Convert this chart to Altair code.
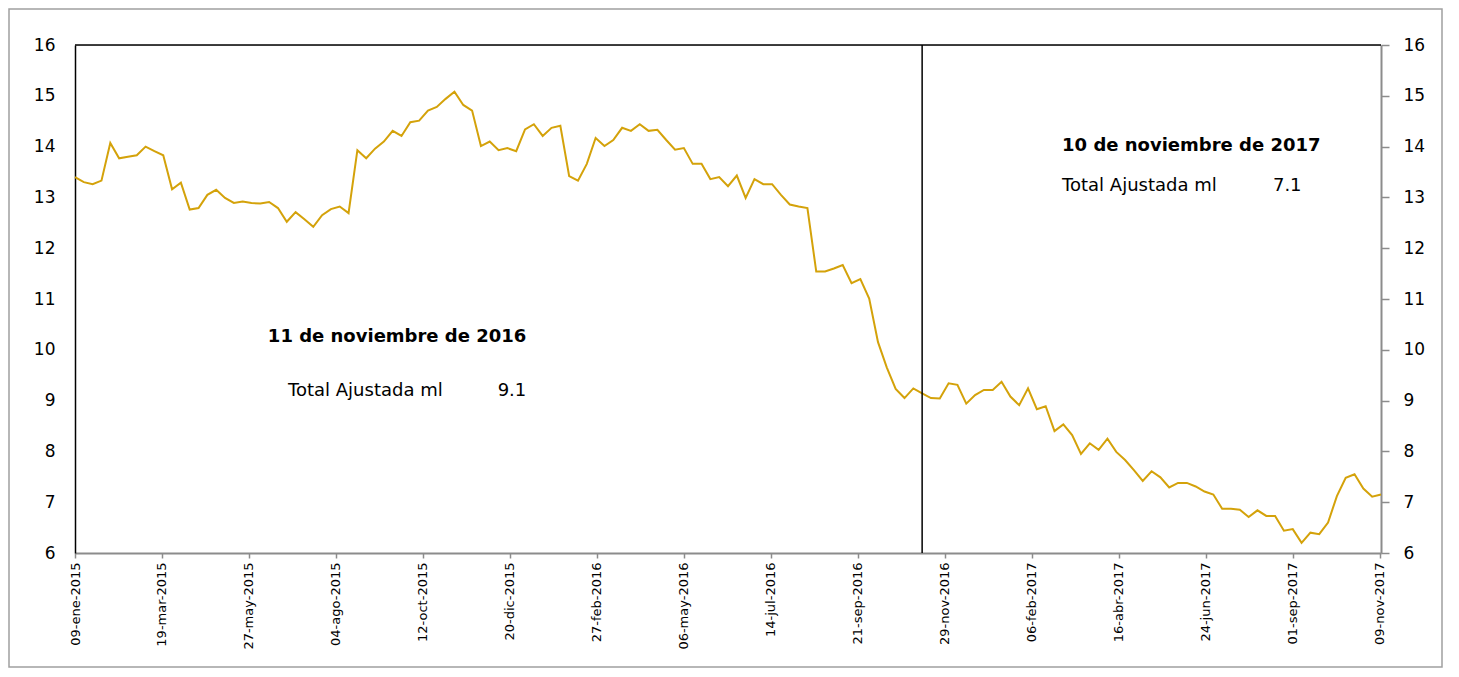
import json
import altair as alt
import pandas as pd

# ---------------- data ----------------
VALORES = [
    13.40, 13.30, 13.26, 13.33, 14.07, 13.77, 13.80, 13.83, 14.00, 13.91, 13.83, 13.16, 13.29,
    12.76, 12.79, 13.05, 13.15, 12.99, 12.89, 12.92, 12.89, 12.88, 12.91, 12.79, 12.52, 12.71,
    12.57, 12.42, 12.65, 12.77, 12.82, 12.69, 13.93, 13.77, 13.96, 14.10, 14.31, 14.21, 14.48,
    14.51, 14.71, 14.78, 14.94, 15.08, 14.82, 14.71, 14.01, 14.10, 13.93, 13.97, 13.91,
    14.34, 14.44, 14.21, 14.37, 14.41, 13.42, 13.33, 13.66, 14.17, 14.01, 14.13, 14.37, 14.31,
    14.44, 14.31, 14.33, 14.13, 13.94, 13.97, 13.66, 13.66, 13.36, 13.40, 13.22, 13.43,
    12.99, 13.36, 13.26, 13.26, 13.05, 12.86, 12.82, 12.79, 11.54, 11.54, 11.60, 11.67, 11.31,
    11.39, 11.01, 10.15, 9.65, 9.23, 9.05, 9.24, 9.14, 9.05, 9.04, 9.34, 9.31,
    8.94, 9.11, 9.21, 9.21, 9.37, 9.08, 8.91, 9.24, 8.83, 8.89, 8.40, 8.53, 8.32, 7.95, 8.16,
    8.03, 8.25, 7.99, 7.83, 7.63, 7.42, 7.61, 7.49, 7.29,
    7.38, 7.38, 7.31, 7.21, 7.15, 6.87, 6.87, 6.85, 6.71, 6.84, 6.73, 6.73, 6.44, 6.47, 6.20,
    6.40, 6.37, 6.60, 7.12, 7.48, 7.55, 7.27, 7.11, 7.15,
]
FECHA_INICIO = "2015-01-09"
FECHAS = [d.strftime("%Y-%m-%d") for d in pd.date_range(FECHA_INICIO, periods=len(VALORES), freq="7D")]

TICK_DATES = ["2015-01-09", "2015-03-19", "2015-05-27", "2015-08-04", "2015-10-12", "2015-12-20",
              "2016-02-27", "2016-05-06", "2016-07-14", "2016-09-21", "2016-11-29", "2017-02-06",
              "2017-04-16", "2017-06-24", "2017-09-01", "2017-11-09"]
MESES = ["ene", "feb", "mar", "abr", "may", "jun", "jul", "ago", "sep", "oct", "nov", "dic"]
Y_TICKS = list(range(6, 17))
FECHA_MARCA = ["2016-11-11"]

TITULOS = ["11 de noviembre de 2016", "10 de noviembre de 2017"]
TITULOS_FECHA = ["2015-06-11", "2017-03-02"]
TITULOS_VALOR = [10.25, 14.01]
ETIQUETAS = ["Total Ajustada ml", "Total Ajustada ml"]
ETIQUETAS_FECHA = ["2015-06-27", "2017-03-02"]
ETIQUETAS_VALOR = [9.19, 13.22]
NUMEROS = ["9.1", "7.1"]
NUMEROS_FECHA = ["2016-01-02", "2017-09-08"]
NUMEROS_VALOR = [9.19, 13.22]


def ms(d):
    return int(pd.Timestamp(d).value // 10**6)


FONT = "DejaVu Sans"
GRIS = "#8c8c8c"
ORO = "#D4A20A"

df = pd.DataFrame({"fecha": FECHAS, "valor": VALORES})

label_expr = ("utcFormat(datum.value, '%d') + '-' + " + json.dumps(MESES)
              + "[utcmonth(datum.value)] + '-' + utcFormat(datum.value, '%Y')")

x_scale = alt.Scale(type="utc", domain=[ms(FECHA_INICIO), ms(FECHAS[-1])])
y_scale = alt.Scale(domain=[6, 16], nice=False, zero=False)

x_axis = alt.Axis(values=[ms(d) for d in TICK_DATES], labelExpr=label_expr, labelAngle=270,
                  labelFontSize=13, labelFont=FONT, labelColor="black", labelPadding=4,
                  labelFlush=False, labelOverlap=False, tickColor=GRIS, tickSize=5, tickWidth=1.5,
                  domainColor=GRIS, domainWidth=2, grid=False, title=None)
y_left = alt.Axis(values=Y_TICKS, orient="left", labelFontSize=17, labelFont=FONT, labelColor="black",
                  labelPadding=20, ticks=False, domainColor="black", domainWidth=1.5, grid=False,
                  title=None, labelFlush=False)
y_right = alt.Axis(values=Y_TICKS, orient="right", labelFontSize=17, labelFont=FONT, labelColor="black",
                   labelPadding=14, tickColor=GRIS, tickSize=8, tickWidth=1.5, domainColor=GRIS,
                   domainWidth=2, grid=False, title=None, labelFlush=False)


def X():
    return alt.X("fecha:T", scale=x_scale, axis=x_axis)


def Y():
    return alt.Y("valor:Q", scale=y_scale, axis=y_left)


frame = alt.Chart(pd.DataFrame({"k": [0]})).mark_rect(
    fillOpacity=0, stroke="#a0a0a0", strokeWidth=1.5
).encode(x=alt.value(-66), x2=alt.value(1367), y=alt.value(-36), y2=alt.value(622))

line = alt.Chart(df).mark_line(color=ORO, strokeWidth=2).encode(x=X(), y=Y())

vrule = alt.Chart(pd.DataFrame({"fecha": FECHA_MARCA})).mark_rule(
    color="black", strokeWidth=1.5).encode(x=X())

toprule = alt.Chart(pd.DataFrame({"valor": [16]})).mark_rule(
    color="black", strokeWidth=1.5).encode(y=Y())

t_titulos = alt.Chart(pd.DataFrame({"fecha": TITULOS_FECHA, "valor": TITULOS_VALOR, "texto": TITULOS})).mark_text(
    align="left", baseline="middle", font=FONT, fontSize=18, fontWeight="bold", color="black"
).encode(x=X(), y=Y(), text="texto:N")

t_etiq = alt.Chart(pd.DataFrame({"fecha": ETIQUETAS_FECHA, "valor": ETIQUETAS_VALOR, "texto": ETIQUETAS})).mark_text(
    align="left", baseline="middle", font=FONT, fontSize=18, color="black"
).encode(x=X(), y=Y(), text="texto:N")

t_num = alt.Chart(pd.DataFrame({"fecha": NUMEROS_FECHA, "valor": NUMEROS_VALOR, "texto": NUMEROS})).mark_text(
    align="right", baseline="middle", font=FONT, fontSize=18, color="black"
).encode(x=X(), y=Y(), text="texto:N")

right = alt.Chart(df).mark_line(opacity=0).encode(
    x=X(),
    y=alt.Y("valor:Q", scale=y_scale, axis=y_right),
)

left = alt.layer(frame, line, vrule, toprule, t_titulos, t_etiq, t_num)

chart = alt.layer(left, right).resolve_scale(y="independent").properties(
    width=1306, height=508,
    padding={"left": 67, "top": 37, "right": 70, "bottom": 116},
    autosize=alt.AutoSizeParams(type="none"),
).configure_view(stroke=None).configure(background="white")

chart.save("out.html", embed_options={"renderer": "svg", "actions": False})
